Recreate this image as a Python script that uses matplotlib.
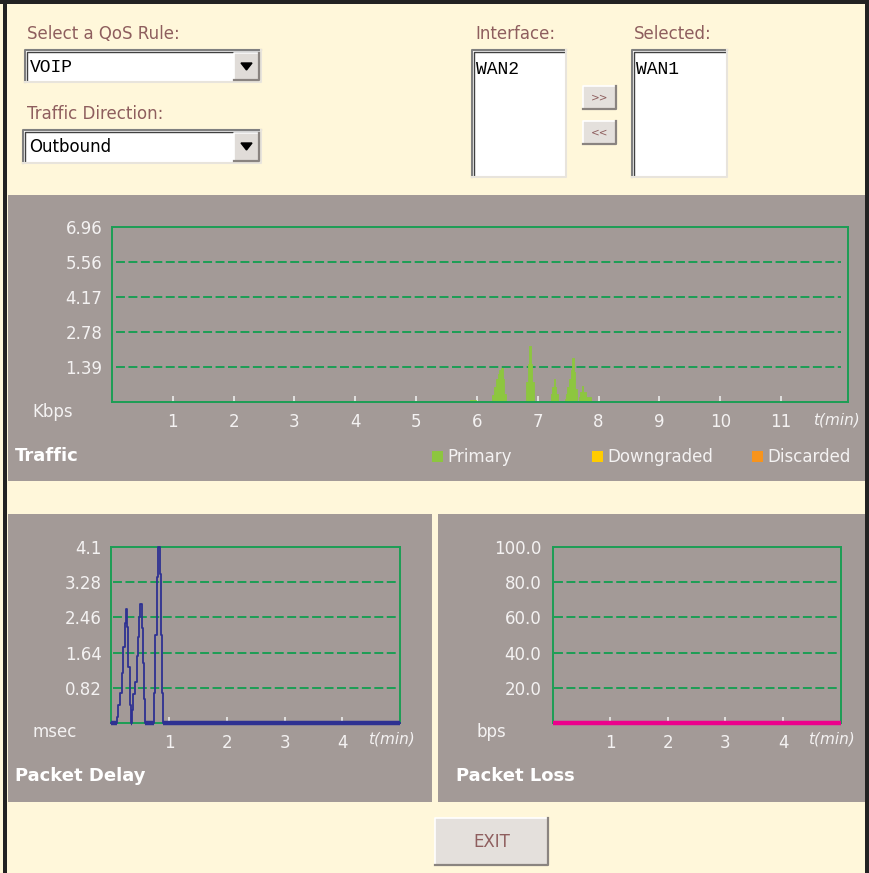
import numpy as np
import matplotlib.pyplot as plt
from matplotlib.patches import Rectangle, Polygon

# Traffic (Kbps) over time, primary class only
traffic_t = [5.88, 5.99, 6.25, 6.28, 6.31, 6.34, 6.37, 6.39, 6.42, 6.44, 6.47,
             6.81, 6.835, 6.855, 6.885, 6.905, 6.94,
             7.21, 7.24, 7.26, 7.285, 7.30, 7.33,
             7.44, 7.46, 7.48, 7.51, 7.54, 7.565, 7.59, 7.61, 7.65,
             7.67, 7.69, 7.72, 7.75, 7.79, 7.87]
traffic_kbps = [0.07, 0.0, 0.26, 0.60, 0.93, 1.13, 1.26, 1.36, 0.93, 0.30, 0.0,
                0.79, 1.52, 2.21, 1.52, 0.79, 0.0,
                0.33, 0.60, 0.93, 0.60, 0.33, 0.0,
                0.13, 0.33, 0.60, 0.93, 1.26, 1.76, 1.19, 0.53, 0.0,
                0.20, 0.40, 0.62, 0.40, 0.20, 0.0]
traffic_yticks = [1.39, 2.78, 4.17, 5.56, 6.96]
traffic_xticks = list(range(1, 12))
legend_labels = ['Primary', 'Downgraded', 'Discarded']
legend_colors = ['#8dc63f', '#ffcc00', '#f7941d']

# Packet delay (msec)
delay_t = [0.0, 0.093, 0.122, 0.151, 0.180, 0.208, 0.237, 0.255, 0.278, 0.295, 0.324,
           0.341, 0.365, 0.382, 0.411, 0.440, 0.468, 0.486, 0.503, 0.526, 0.544, 0.567,
           0.590, 0.740, 0.763, 0.786, 0.815, 0.838, 0.861, 0.884, 0.902, 0.919, 5.0]
delay_ms = [0, 0.15, 0.43, 0.71, 1.16, 1.78, 2.34, 2.66, 2.24, 1.31, 0.42,
            0, 0.30, 0.67, 0.96, 1.55, 2.01, 2.48, 2.77, 2.22, 1.39, 0.55,
            0, 0.71, 2.05, 3.41, 4.10, 3.46, 2.05, 0.70, 0, 0, 0]
delay_yticks = [0.82, 1.64, 2.46, 3.28, 4.1]

# Packet loss (bps)
loss_t = [0, 5]
loss_bps = [0, 0]
loss_yticks = [20.0, 40.0, 60.0, 80.0, 100.0]
small_xticks = [1, 2, 3, 4]

W, H = 869, 873
CREAM = '#fff7da'
PANEL = '#a39a97'
GREEN = '#1c9e55'
LIGHT = '#f4f2f2'
BROWN = '#8e5e5e'

fig = plt.figure(figsize=(W / 100, H / 100), dpi=100)
fig.patch.set_facecolor(CREAM)
bg = fig.add_axes([0, 0, 1, 1])
bg.set_xlim(0, W)
bg.set_ylim(H, 0)
bg.axis('off')


def rect(x, y, w, h, fc, ec='none', lw=0, z=1):
    bg.add_patch(Rectangle((x, y), w, h, facecolor=fc, edgecolor=ec, lw=lw, zorder=z))


def sunken(x, y, w, h):
    rect(x, y, w, h, 'white', z=2)
    bg.plot([x, x, x + w], [y + h, y, y], color='#808080', lw=1.5, zorder=3)
    bg.plot([x + 1.5, x + 1.5, x + w - 1], [y + h - 1, y + 1.5, y + 1.5], color='#404040', lw=1, zorder=3)
    bg.plot([x, x + w, x + w], [y + h, y + h, y], color='#e8e4dc', lw=1.5, zorder=3)


def button(x, y, w, h, fc='#e4e0dc'):
    rect(x, y, w, h, fc, z=2)
    bg.plot([x, x, x + w], [y + h, y, y], color='white', lw=1.2, zorder=3)
    bg.plot([x, x + w, x + w], [y + h, y + h, y], color='#8a8480', lw=1.6, zorder=3)


# outer frame
rect(0, 0, W, 4, '#222222', z=5)
rect(3, 0, 3.5, H, '#222222', z=5)
rect(865, 0, 4, H, '#222222', z=5)

# top form area
bg.text(27, 34, 'Select a QoS Rule:', color=BROWN, fontsize=12, va='center')
sunken(25, 50, 236, 32)
button(234, 53, 25, 27, '#e0dcd8')
bg.add_patch(Polygon([[241, 63], [252, 63], [246.5, 70]], closed=True, color='black', zorder=4))
bg.text(30, 67, 'VOIP', family='Liberation Mono', fontsize=13, va='center')

bg.text(27, 114, 'Traffic Direction:', color=BROWN, fontsize=12, va='center')
sunken(23, 130, 238, 33)
button(234, 133, 25, 28, '#e0dcd8')
bg.add_patch(Polygon([[241, 143], [252, 143], [246.5, 150]], closed=True, color='black', zorder=4))
bg.text(29, 147, 'Outbound', fontsize=12, va='center')

bg.text(475, 34, 'Interface:', color=BROWN, fontsize=12, va='center')
sunken(472, 50, 94, 127)
bg.text(476, 69, 'WAN2', family='Liberation Mono', fontsize=13, va='center')
bg.text(634, 34, 'Selected:', color=BROWN, fontsize=12, va='center')
sunken(632, 50, 95, 127)
bg.text(636, 69, 'WAN1', family='Liberation Mono', fontsize=13, va='center')
button(583, 86, 33, 23)
bg.text(599.5, 97.5, '>>', color=BROWN, fontsize=7.5, ha='center', va='center')
button(583, 121, 33, 23)
bg.text(599.5, 132.5, '<<', color=BROWN, fontsize=7.5, ha='center', va='center')

# grey panels
rect(8, 195, 857, 286, PANEL)
rect(8, 514, 424, 288, PANEL)
rect(438, 514, 427, 288, PANEL)

# exit button
button(435, 818, 113, 47)
bg.text(491.5, 842, 'EXIT', color=BROWN, fontsize=12, ha='center', va='center')


def px_axes(x0, y0, x1, y1):
    return fig.add_axes([x0 / W, 1 - y1 / H, (x1 - x0) / W, (y1 - y0) / H])


def style_axes(ax, xmax, ymax, yticks, xticks, yfmt, ypad):
    ax.set_facecolor('none')
    ax.set_xlim(0, xmax)
    ax.set_ylim(0, ymax)
    for s in ax.spines.values():
        s.set_color(GREEN)
        s.set_linewidth(1.4)
    for v in yticks[:-1]:
        ax.axhline(v, xmin=0.005, xmax=0.99, color=GREEN, lw=1.4,
                   linestyle=(0, (4.6, 1.8)), zorder=1)
    ax.set_yticks(yticks)
    ax.set_yticklabels([yfmt.format(v) for v in yticks])
    ax.set_xticks(xticks)
    ax.set_xticklabels([str(v) for v in xticks])
    ax.tick_params(axis='y', length=0, pad=ypad, labelsize=12, labelcolor=LIGHT)
    ax.tick_params(axis='x', direction='in', length=4.5, width=1.2, color='#ececec',
                   pad=8, labelsize=12, labelcolor=LIGHT)


# Traffic chart
ax1 = px_axes(112, 227, 848, 402)
style_axes(ax1, 12.1, 6.96, traffic_yticks, traffic_xticks, '{:.2f}', 7)
ax1.fill_between(traffic_t, traffic_kbps, step='post', color=legend_colors[0],
                 edgecolor=legend_colors[0], lw=0.6, zorder=2)
bg.text(32, 412, 'Kbps', color=LIGHT, fontsize=12, va='center')
bg.text(813, 420, 't(min)', color=LIGHT, fontsize=11, style='italic', va='center')
bg.text(15, 456, 'Traffic', color='white', fontsize=13, weight='bold', va='center')
for i, (lab, col) in enumerate(zip(legend_labels, legend_colors)):
    x = 432 + i * 160
    rect(x, 451, 11, 11, col, z=3)
    bg.text(x + 15, 456.5, lab, color=LIGHT, fontsize=12, va='center')

# Packet delay chart
ax2 = px_axes(111.3, 547, 400, 723)
style_axes(ax2, 5, 4.1, delay_yticks, small_xticks, '{:g}', 7)
ax2.plot(delay_t, delay_ms, drawstyle='steps-post', color='#2e3192', lw=1.3, zorder=3, clip_on=False)
for i in range(len(delay_t) - 1):
    if delay_ms[i] == 0:
        ax2.hlines(0, delay_t[i], delay_t[i + 1], color='#2e3192', lw=3.2, zorder=4, clip_on=False)
bg.text(32, 732, 'msec', color=LIGHT, fontsize=12, va='center')
bg.text(368, 739, 't(min)', color=LIGHT, fontsize=11, style='italic', va='center')
bg.text(15, 776, 'Packet Delay', color='white', fontsize=13, weight='bold', va='center')

# Packet loss chart
ax3 = px_axes(552.6, 547, 840.7, 723)
style_axes(ax3, 5, 100, loss_yticks, small_xticks, '{:.1f}', 8)
ax3.plot(loss_t, loss_bps, color='#ec008c', lw=3.2, zorder=4, clip_on=False, solid_capstyle='butt')
bg.text(477, 732, 'bps', color=LIGHT, fontsize=12, va='center')
bg.text(808, 739, 't(min)', color=LIGHT, fontsize=11, style='italic', va='center')
bg.text(456, 776, 'Packet Loss', color='white', fontsize=13, weight='bold', va='center')

fig.savefig('out.png', dpi=100)
